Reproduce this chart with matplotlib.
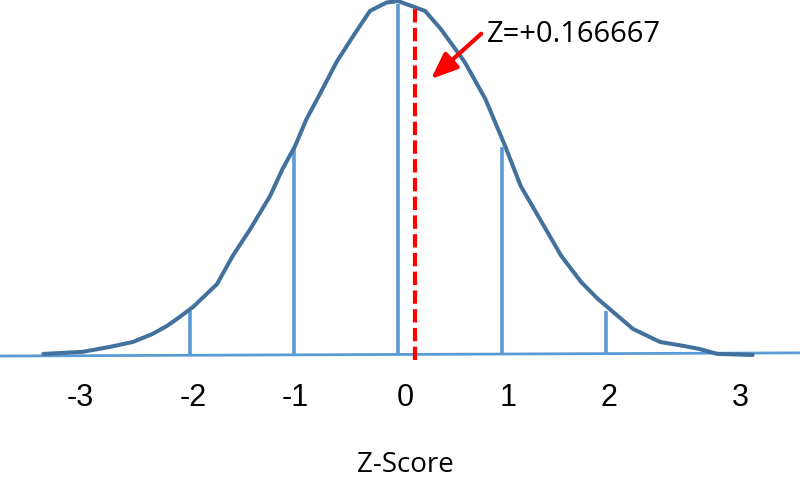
import matplotlib.pyplot as plt

# Hand drawn bell curve (z score, height relative to the peak)
curve_z = [-3.41, -3.03, -2.77, -2.55, -2.36, -2.22, -2.10, -1.97, -1.74, -1.59,
           -1.42, -1.23, -1.11, -0.99, -0.88, -0.75, -0.59, -0.43, -0.27, -0.11,
           0.0, 0.26, 0.41, 0.64, 0.84, 1.03, 1.18, 1.38, 1.57, 1.76,
           1.92, 2.09, 2.26, 2.52, 2.74, 2.90, 3.07, 3.41]
curve_h = [0.003, 0.009, 0.023, 0.037, 0.060, 0.083, 0.108, 0.137, 0.202, 0.282,
           0.359, 0.453, 0.530, 0.595, 0.672, 0.744, 0.835, 0.909, 0.980, 1.004,
           1.008, 0.980, 0.929, 0.835, 0.729, 0.595, 0.481, 0.379, 0.282, 0.208,
           0.160, 0.117, 0.074, 0.037, 0.026, 0.017, 0.003, 0.0]

# vertical markers at whole z scores
marker_z = [-2, -1, 0, 1, 2]
marker_h = [0.125, 0.593, 1.0, 0.593, 0.125]

tick_labels = ['-3', '-2', '-1', '0', '1', '2', '3']
z_value = 0.166667

# where the labels sit under the axis (they are not evenly spaced in the original)
label_x = [-3.06, -1.97, -0.99, 0.07, 1.06, 2.03, 3.29]

fig = plt.figure(figsize=(8, 5.02), dpi=100)
ax = fig.add_axes([0, 0, 1, 1])
ax.set_xlim(-3.827, 3.865)
ax.set_ylim(-0.416, 1.014)
ax.axis('off')

light = '#5B9BD5'
dark = '#41719C'

ax.plot([-3.827, 3.865], [-0.003, 0.006], color=light, lw=2.0,
        solid_capstyle='butt')
ax.vlines(marker_z, 0, marker_h, color=light, lw=2.6)
ax.plot(curve_z, curve_h, color=dark, lw=2.9, solid_joinstyle='round',
        solid_capstyle='round')

ax.plot([z_value, z_value], [-0.014, 0.986], color='#FF0000', lw=3,
        dashes=(3.2, 1.3))

ax.annotate('', xy=(0.317, 0.786), xytext=(0.80, 0.915),
            arrowprops=dict(arrowstyle='-|>,head_length=1.6,head_width=0.65',
                            color='#FF0000', lw=3, shrinkA=0, shrinkB=0))
ax.text(0.856, 0.915, 'Z=+%g' % z_value, fontsize=21, family='Open Sans',
        ha='left', va='center')

for x, lab in zip(label_x, tick_labels):
    ax.text(x, -0.12, lab, fontsize=22, family='Liberation Sans',
            ha='center', va='center')

ax.text(0.067, -0.311, 'Z-Score', fontsize=20, family='Open Sans',
        ha='center', va='center')

fig.savefig('out.png', dpi=100)
